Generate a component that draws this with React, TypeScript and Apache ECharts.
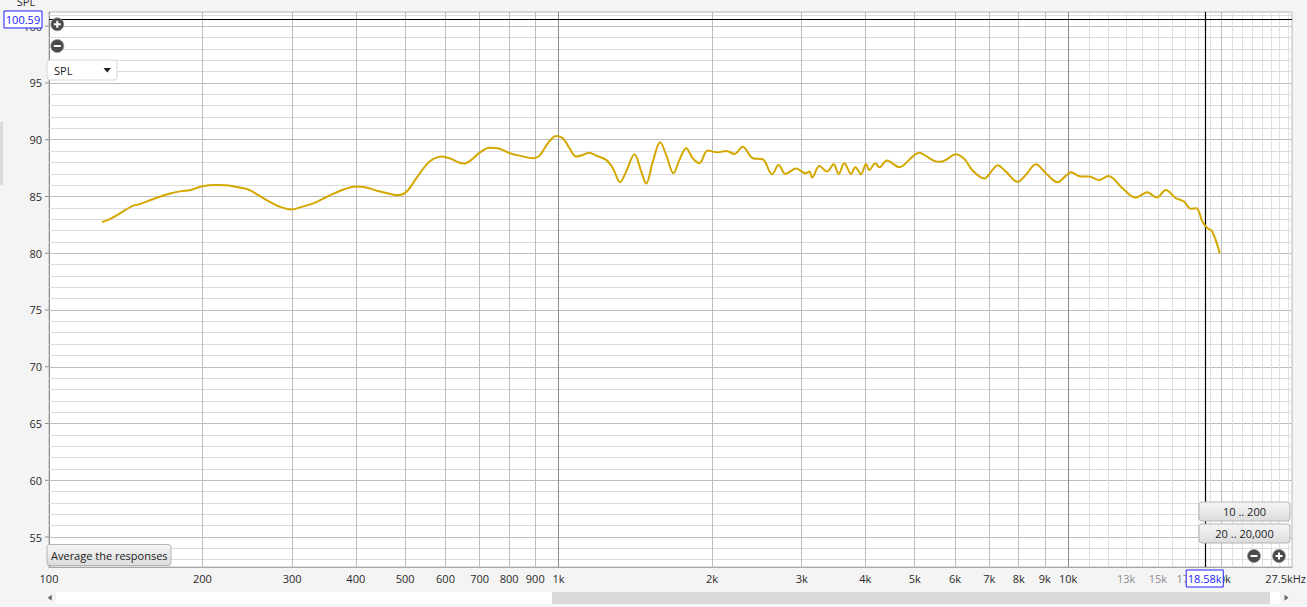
import React, { useEffect, useRef } from "react";
import * as echarts from "echarts";

// ---- data ----
const freqHz = [
  127, 132, 138, 145, 151, 158, 165, 173, 182, 189, 200, 212, 223, 235, 246, 257, 269, 282, 299, 313,
  332, 353, 375, 401, 417, 442, 470, 484, 503, 526, 550, 567, 589, 611, 635, 654, 674, 700, 732, 760,
  802, 839, 891, 918, 953, 990, 1020, 1051, 1083, 1116, 1150, 1185, 1240, 1278, 1321, 1357, 1409, 1453, 1486, 1531,
  1583, 1626, 1681, 1727, 1780, 1834, 1890, 1962, 2053, 2133, 2214, 2298, 2404, 2515, 2624, 2704, 2787, 2925, 3050, 3106,
  3144, 3249, 3364, 3466, 3545, 3637, 3749, 3823, 3922, 4012, 4072, 4184, 4260, 4411, 4663, 4951, 5103, 5260, 5461, 5629,
  5800, 6005, 6254, 6493, 6845, 7107, 7270, 7548, 7955, 8260, 8641, 9042, 9528, 9897, 10120, 10590, 11000, 11500, 12000, 12780,
  13570, 14300, 14930, 15550, 16270, 16890, 17400, 17850, 18340, 18760, 19180, 19840,
];
const splDb = [
  82.74, 83.03, 83.53, 84.11, 84.35, 84.67, 84.97, 85.26, 85.47, 85.55, 85.9, 86.02, 85.99, 85.81, 85.61, 85.14, 84.61, 84.14, 83.85, 84.08,
  84.44, 85.02, 85.55, 85.87, 85.81, 85.49, 85.2, 85.11, 85.42, 86.61, 87.78, 88.28, 88.51, 88.37, 88.02, 87.9, 88.22, 88.86, 89.3, 89.25,
  88.81, 88.6, 88.37, 88.6, 89.69, 90.33, 90.13, 89.25, 88.51, 88.66, 88.86, 88.6, 88.22, 87.49, 86.26, 87.19, 88.72, 87.19, 86.14, 88.07,
  89.78, 88.66, 87.05, 88.22, 89.25, 88.37, 87.93, 89.04, 88.89, 89.01, 88.75, 89.39, 88.37, 88.28, 86.96, 87.78, 86.99, 87.46, 87.05, 87.19,
  86.67, 87.69, 87.19, 87.84, 86.99, 87.93, 86.99, 87.58, 86.96, 87.87, 87.34, 87.93, 87.58, 88.16, 87.58, 88.51, 88.86, 88.57, 88.13, 88.05,
  88.31, 88.72, 88.31, 87.28, 86.58, 87.34, 87.76, 87.19, 86.29, 86.9, 87.84, 87.05, 86.26, 86.81, 87.14, 86.75, 86.75, 86.46, 86.81, 85.73,
  84.9, 85.38, 84.9, 85.58, 84.85, 84.55, 83.91, 83.97, 82.79, 82.21, 81.91, 80.0,
];

const yLabelValues = [55, 60, 65, 70, 75, 80, 85, 90, 95, 100];
const xLabelValues = [100, 200, 300, 400, 500, 600, 700, 800, 900, 1000, 2000, 3000, 4000, 5000, 6000, 7000, 8000, 9000, 10000, 13000, 15000, 17000, 20000];
const xLabelTexts = ["100", "200", "300", "400", "500", "600", "700", "800", "900", "1k", "2k", "3k", "4k", "5k", "6k", "7k", "8k", "9k", "10k", "13k", "15k", "17k", "20k"];
const xLabelFaint = ["13k", "15k", "17k"];
const xGridMid = [200, 300, 400, 500, 600, 700, 800, 900, 2000, 3000, 4000, 5000, 6000, 7000, 8000, 9000, 20000];
const xGridDark = [1000, 10000];
const xGridLight = [11000, 12000, 13000, 14000, 15000, 16000, 17000, 18000, 19000, 21000, 22000, 23000, 24000, 25000, 26000, 27000];
const yMin = 52.36;
const yMax = 101.25;
const xMin = 100;
const xMax = 27500;
const cursorFreq = 18580;
const cursorSpl = 100.59;
const cursorFreqText = "18.58k";
const cursorSplText = "100.59";

const FONT = '"Open Sans", "Noto Sans", sans-serif';

export default function App() {
  const ref = useRef<HTMLDivElement>(null);
  useEffect(() => {
    if (!ref.current) return;
    const chart = echarts.init(ref.current, null, { renderer: "svg" });

    const gridLines: any[] = [];
    for (let v = Math.ceil(yMin); v <= Math.floor(yMax); v++) {
      const major = v % 5 === 0;
      gridLines.push({ yAxis: v, lineStyle: { color: major ? "#bdbdbd" : "#dcdcdc", width: 1, type: "solid" } });
    }
    xGridLight.forEach((f) => gridLines.push({ xAxis: f, lineStyle: { color: "#e0e0e0", width: 1, type: "solid" } }));
    xGridMid.forEach((f) => gridLines.push({ xAxis: f, lineStyle: { color: "#bdbdbd", width: 1, type: "solid" } }));
    xGridDark.forEach((f) => gridLines.push({ xAxis: f, lineStyle: { color: "#8c8c8c", width: 1, type: "solid" } }));

    chart.setOption({
      animation: false,
      backgroundColor: "#f4f4f4",
      textStyle: { fontFamily: FONT },
      grid: { left: 49, right: 15, top: 12, bottom: 40, show: true, backgroundColor: "#ffffff", borderColor: "#b8b8b8", borderWidth: 1 },
      xAxis: {
        type: "log",
        logBase: 10,
        min: xMin,
        max: xMax,
        axisLabel: { show: false },
        axisTick: { show: false },
        splitLine: { show: false },
        axisLine: { show: true, lineStyle: { color: "#a8a8a8" } },
      },
      yAxis: {
        type: "value",
        min: yMin,
        max: yMax,
        axisLabel: { show: false },
        axisTick: { show: false },
        splitLine: { show: false },
        axisLine: { show: true, lineStyle: { color: "#8c8c8c" } },
      },
      series: [
        {
          type: "line",
          data: [[xMin, yMin]],
          showSymbol: false,
          silent: true,
          z: 1,
          lineStyle: { opacity: 0 },
          markLine: { silent: true, symbol: ["none", "none"], label: { show: false }, animation: false, data: gridLines },
        },
        {
          type: "line",
          data: freqHz.map((f, i) => [f, splDb[i]]),
          smooth: 0.35,
          showSymbol: false,
          silent: true,
          z: 5,
          lineStyle: { color: "#d4a800", width: 2 },
        },
        {
          type: "line",
          data: [[xMin, yMin]],
          showSymbol: false,
          silent: true,
          z: 6,
          lineStyle: { opacity: 0 },
          markLine: {
            silent: true,
            symbol: ["none", "none"],
            label: { show: false },
            animation: false,
            data: [
              { xAxis: cursorFreq, lineStyle: { color: "#000", width: 1.2, type: "solid" } },
              { yAxis: cursorSpl, lineStyle: { color: "#000", width: 1.2, type: "solid" } },
            ],
          },
        },
      ],
    });

    const px = (f: number) => chart.convertToPixel({ xAxisIndex: 0 }, f) as number;
    const py = (v: number) => chart.convertToPixel({ yAxisIndex: 0 }, v) as number;
    const txt = (text: string, x: number, y: number, opts: any = {}) => ({
      type: "text",
      x,
      y,
      z: 100,
      style: {
        text,
        fill: opts.fill || "#2a2a2a",
        font: `${opts.size || 11}px ${FONT}`,
        align: opts.align || "center",
        verticalAlign: "middle",
      },
    });
    const grad = () =>
      new echarts.graphic.LinearGradient(0, 0, 0, 1, [
        { offset: 0, color: "#f6f6f6" },
        { offset: 1, color: "#dcdcdc" },
      ]);
    const button = (x: number, y: number, w: number, h: number, label: string, align = "center") => [
      { type: "rect", z: 100, shape: { x, y, width: w, height: h, r: 3 }, style: { fill: grad(), stroke: "#b4b4b4", lineWidth: 1 } },
      txt(label, align === "center" ? x + w / 2 : x + 4, y + h / 2, { align, fill: "#222" }),
    ];
    const icon = (cx: number, cy: number, plus: boolean) => {
      const els: any[] = [
        { type: "circle", z: 100, shape: { cx, cy, r: 6.5 }, style: { fill: "#4a4a4a", stroke: "#9a9a9a", lineWidth: 0.8 } },
        { type: "rect", z: 101, shape: { x: cx - 3.5, y: cy - 1, width: 7, height: 2 }, style: { fill: "#fff" } },
      ];
      if (plus) els.push({ type: "rect", z: 101, shape: { x: cx - 1, y: cy - 3.5, width: 2, height: 7 }, style: { fill: "#fff" } });
      return els;
    };

    const g: any[] = [];
    // left strip
    g.push({ type: "rect", z: 100, shape: { x: 0, y: 122, width: 3, height: 63 }, style: { fill: "#dadada" } });
    // top axis title
    g.push(txt("SPL", 26, 1, {}));
    // y labels and ticks
    yLabelValues.forEach((v) => {
      const y = py(v);
      g.push(txt(String(v), 42, y, { align: "right" }));
      g.push({ type: "line", z: 100, shape: { x1: 45, y1: y, x2: 49, y2: y }, style: { stroke: "#8c8c8c", lineWidth: 1 } });
    });
    // x labels
    xLabelValues.forEach((f, i) => {
      const t = xLabelTexts[i];
      g.push(txt(t, px(f), 578, { fill: xLabelFaint.includes(t) ? "#8c8c8c" : "#2a2a2a" }));
    });
    g.push(txt("27.5kHz", 1306, 578, { align: "right" }));
    // cursor readouts
    const cy = py(cursorSpl);
    g.push({ type: "rect", z: 102, shape: { x: 4, y: cy - 8.5, width: 38, height: 17 }, style: { fill: "#fff", stroke: "#1f1fff", lineWidth: 1 } });
    g.push({ ...txt(cursorSplText, 23, cy, { fill: "#1a1aff" }), z: 103 });
    const cx = px(cursorFreq);
    g.push({ type: "rect", z: 102, shape: { x: cx - 19, y: 570, width: 37, height: 17 }, style: { fill: "#fff", stroke: "#1f1fff", lineWidth: 1 } });
    g.push({ ...txt(cursorFreqText, cx - 0.5, 578.5, { fill: "#1a1aff" }), z: 103 });
    // zoom icons
    g.push(...icon(57.3, 24.3, true));
    g.push(...icon(57.3, 46, false));
    g.push(...icon(1254, 556, false));
    g.push(...icon(1279, 556, true));
    // SPL dropdown
    g.push({ type: "rect", z: 100, shape: { x: 47, y: 60, width: 70, height: 20, r: 3 }, style: { fill: "#fff", stroke: "#d6d6d6", lineWidth: 1 } });
    g.push(txt("SPL", 54, 70, { align: "left", fill: "#222" }));
    g.push({ type: "polygon", z: 101, shape: { points: [[103.5, 68], [111, 68], [107.25, 72.5]] }, style: { fill: "#222" } });
    // buttons
    g.push(...button(47, 544.5, 124, 21, "Average the responses", "left"));
    g.push(...button(1199, 502, 91, 19, "10 .. 200"));
    g.push(...button(1199, 524, 91, 19, "20 .. 20,000"));
    // scrollbar
    g.push({ type: "rect", z: 100, shape: { x: 56, y: 592, width: 1224, height: 12 }, style: { fill: "#ffffff" } });
    g.push({ type: "rect", z: 101, shape: { x: 552, y: 592, width: 718, height: 12 }, style: { fill: "#d9d9d9" } });
    g.push({ type: "polygon", z: 101, shape: { points: [[47.7, 597.8], [51.7, 594.8], [51.7, 600.8]] }, style: { fill: "#666" } });
    g.push({ type: "polygon", z: 101, shape: { points: [[1284.5, 594.8], [1288.5, 597.8], [1284.5, 600.8]] }, style: { fill: "#666" } });

    chart.setOption({ graphic: { elements: g } });
    return () => chart.dispose();
  }, []);

  return <div ref={ref} style={{ position: "absolute", left: 0, top: 0, width: 1307, height: 607 }} />;
}
